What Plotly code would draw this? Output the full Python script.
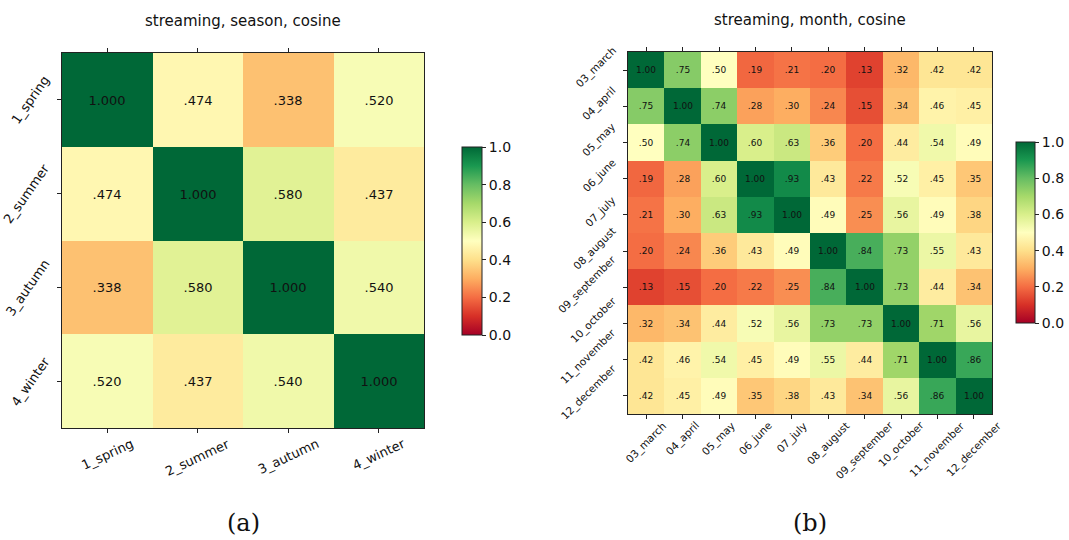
import plotly.graph_objects as go

# Season-level cosine similarity
seasons = ["1_spring", "2_summer", "3_autumn", "4_winter"]
season_sim = [
    [1.000, 0.474, 0.338, 0.520],
    [0.474, 1.000, 0.580, 0.437],
    [0.338, 0.580, 1.000, 0.540],
    [0.520, 0.437, 0.540, 1.000],
]

# Month-level cosine similarity
months = ["03_march", "04_april", "05_may", "06_june", "07_july",
          "08_august", "09_september", "10_october", "11_november", "12_december"]
month_sim = [
    [1.00, 0.75, 0.50, 0.19, 0.21, 0.20, 0.13, 0.32, 0.42, 0.42],
    [0.75, 1.00, 0.74, 0.28, 0.30, 0.24, 0.15, 0.34, 0.46, 0.45],
    [0.50, 0.74, 1.00, 0.60, 0.63, 0.36, 0.20, 0.44, 0.54, 0.49],
    [0.19, 0.28, 0.60, 1.00, 0.93, 0.43, 0.22, 0.52, 0.45, 0.35],
    [0.21, 0.30, 0.63, 0.93, 1.00, 0.49, 0.25, 0.56, 0.49, 0.38],
    [0.20, 0.24, 0.36, 0.43, 0.49, 1.00, 0.84, 0.73, 0.55, 0.43],
    [0.13, 0.15, 0.20, 0.22, 0.25, 0.84, 1.00, 0.73, 0.44, 0.34],
    [0.32, 0.34, 0.44, 0.52, 0.56, 0.73, 0.73, 1.00, 0.71, 0.56],
    [0.42, 0.46, 0.54, 0.45, 0.49, 0.55, 0.44, 0.71, 1.00, 0.86],
    [0.42, 0.45, 0.49, 0.35, 0.38, 0.43, 0.34, 0.56, 0.86, 1.00],
]

W, H = 1069, 540
FONT = "DejaVu Sans"
INK = "#111"


def fmt(rows, digits):
    return [[f"{v:.{digits}f}".lstrip("0") for v in r] for r in rows]


def px_x(a, b):
    return [a / W, b / W]


def px_y(top, bottom):
    return [1 - bottom / H, 1 - top / H]


def cbar(x0, top, bottom, thick):
    return dict(
        x=x0 / W, xanchor="left", xpad=0,
        y=1 - bottom / H, yanchor="bottom", ypad=0,
        len=(bottom - top) / H, lenmode="fraction",
        thickness=thick, thicknessmode="pixels",
        outlinewidth=1, outlinecolor="#222",
        tickvals=[0, 0.2, 0.4, 0.6, 0.8, 1.0],
        ticktext=["0.0", "0.2", "0.4", "0.6", "0.8", "1.0"],
        ticks="outside", ticklen=4, tickcolor="#222",
        tickfont=dict(family=FONT, size=14, color=INK),
    )


fig = go.Figure()

fig.add_trace(go.Heatmap(
    z=season_sim, x=seasons, y=seasons,
    colorscale="RdYlGn", zmin=0, zmax=1,
    text=fmt(season_sim, 3), texttemplate="%{text}",
    textfont=dict(family=FONT, size=13, color=INK),
    xaxis="x", yaxis="y",
    colorbar=cbar(462, 147, 335, 20),
    hoverinfo="skip",
))

fig.add_trace(go.Heatmap(
    z=month_sim, x=months, y=months,
    colorscale="RdYlGn", zmin=0, zmax=1,
    text=fmt(month_sim, 2), texttemplate="%{text}",
    textfont=dict(family=FONT, size=9, color=INK),
    xaxis="x2", yaxis="y2",
    colorbar=cbar(1016, 142, 323, 19),
    hoverinfo="skip",
))

axis_common = dict(
    showline=True, linecolor="#222", linewidth=1,
    ticks="outside", ticklen=4, tickcolor="#222",
    showgrid=False, zeroline=False, automargin=False,
    showticklabels=False,
)


# Rotated category labels, centred on their ticks
def tick_labels(cats, xref, yref, axis_px, angle, size, side, shift=0):
    out = []
    for c in cats:
        if side == "bottom":
            out.append(dict(text=c, x=c, xref=xref, y=1 - axis_px / H, yref="paper",
                            xanchor="center", yanchor="top", textangle=angle,
                            showarrow=False, borderpad=0,
                            font=dict(family=FONT, size=size, color=INK)))
        else:
            out.append(dict(text=c, y=c, yref=yref, x=axis_px / W, xref="paper",
                            xanchor="right", yanchor="middle", textangle=angle,
                            yshift=shift, showarrow=False, borderpad=0,
                            font=dict(family=FONT, size=size, color=INK)))
    return out


annotations = [
    dict(text="streaming, season, cosine", x=243 / W, y=1 - 21 / H,
         xref="paper", yref="paper", showarrow=False,
         xanchor="center", yanchor="middle",
         font=dict(family=FONT, size=15, color=INK)),
    dict(text="streaming, month, cosine", x=810 / W, y=1 - 20 / H,
         xref="paper", yref="paper", showarrow=False,
         xanchor="center", yanchor="middle",
         font=dict(family=FONT, size=15, color=INK)),
    dict(text="(a)", x=243 / W, y=1 - 523 / H,
         xref="paper", yref="paper", showarrow=False,
         xanchor="center", yanchor="middle",
         font=dict(family="DejaVu Serif", size=24, color=INK)),
    dict(text="(b)", x=810 / W, y=1 - 523 / H,
         xref="paper", yref="paper", showarrow=False,
         xanchor="center", yanchor="middle",
         font=dict(family="DejaVu Serif", size=24, color=INK)),
]
annotations += tick_labels(seasons, "x", "y", 435, -25, 13, "bottom")
annotations += tick_labels(seasons, "x", "y", 54, -55, 13, "left")
annotations += tick_labels(months, "x2", "y2", 418, -45, 10.5, "bottom")
annotations += tick_labels(months, "x2", "y2", 620, -45, 10.5, "left", shift=3)

ns, nm = len(seasons), len(months)
fig.update_layout(
    width=W, height=H,
    margin=dict(l=0, r=0, t=0, b=0, autoexpand=False),
    paper_bgcolor="white", plot_bgcolor="white",
    font=dict(family=FONT, color=INK),
    xaxis=dict(domain=px_x(62, 424), anchor="y", mirror="ticks",
               range=[-0.5, ns - 0.5], **axis_common),
    yaxis=dict(domain=px_y(53, 428), anchor="x", mirror=True,
               range=[ns - 0.5, -0.5], **axis_common),
    xaxis2=dict(domain=px_x(628, 992), anchor="y2", mirror="ticks",
                range=[-0.5, nm - 0.5], **axis_common),
    yaxis2=dict(domain=px_y(52, 414), anchor="x2", mirror=True,
                range=[nm - 0.5, -0.5], **axis_common),
    annotations=annotations,
)

fig.write_html("out.html")
